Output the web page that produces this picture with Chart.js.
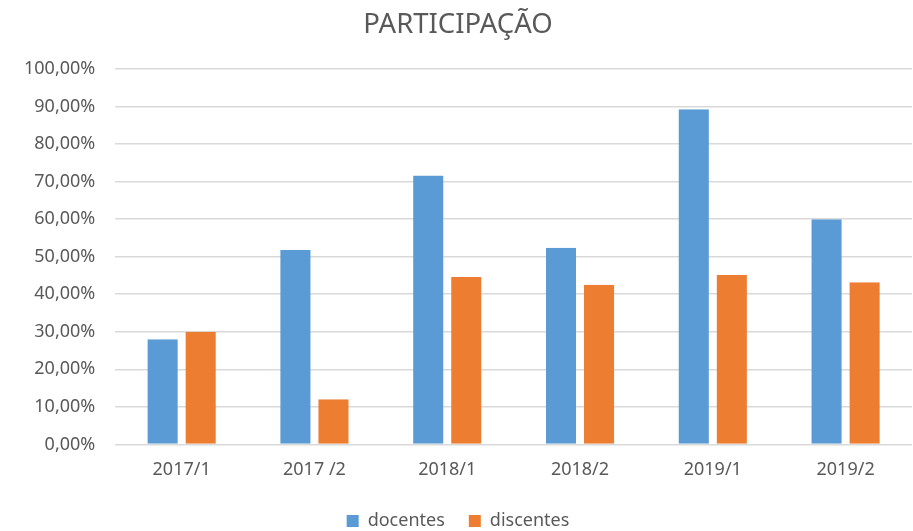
<!DOCTYPE html>
<html>
<head>
<meta charset="utf-8">
<script src="https://cdn.jsdelivr.net/npm/chart.js@4.4.0/dist/chart.umd.min.js"></script>
<style>
  html, body { margin: 0; padding: 0; background: #fff; }
  #wrap { width: 913px; height: 531px; }
</style>
</head>
<body>
<div id="wrap"><canvas id="chart"></canvas></div>
<script>
// semestres
const categories = ['2017/1', '2017 /2', '2018/1', '2018/2', '2019/1', '2019/2'];
// participação em %
const docentes = [28.0, 51.8, 71.6, 52.4, 89.3, 60.0];
const discentes = [30.0, 12.0, 44.6, 42.5, 45.1, 43.2];

const labelColor = '#595959';
const fontFamily = "'Noto Sans', 'Open Sans', sans-serif";

function fmt(v) {
    return v.toFixed(2).replace('.', ',') + '%';
}

// borda transparente nas laterais = espaço entre as barras
const gapBorder = { left: 4, right: 4, top: 0, bottom: 0 };

new Chart(document.getElementById('chart'), {
    type: 'bar',
    data: {
        labels: categories,
        datasets: [
            {
                label: 'docentes',
                data: docentes,
                backgroundColor: '#5B9BD5',
                borderColor: 'rgba(0,0,0,0)',
                borderWidth: gapBorder,
                borderSkipped: false
            },
            {
                label: 'discentes',
                data: discentes,
                backgroundColor: '#ED7D31',
                borderColor: 'rgba(0,0,0,0)',
                borderWidth: gapBorder,
                borderSkipped: false
            }
        ]
    },
    options: {
        responsive: true,
        maintainAspectRatio: false,
        animation: false,
        layout: { padding: { left: 4, right: 1, top: 0, bottom: -9 } },
        datasets: {
            bar: { categoryPercentage: 0.573, barPercentage: 1.0 }
        },
        scales: {
            x: {
                grid: { display: false, drawTicks: false },
                border: { display: false },
                ticks: { color: labelColor, font: { family: fontFamily, size: 18 }, padding: 15 },
                afterFit: axis => { axis.height -= 8; }
            },
            y: {
                min: 0,
                max: 100,
                grid: { color: '#D9D9D9', lineWidth: 1.5, drawTicks: false },
                border: { display: false },
                ticks: {
                    stepSize: 10,
                    color: labelColor,
                    font: { family: fontFamily, size: 18 },
                    padding: 20,
                    callback: v => fmt(v)
                }
            }
        },
        plugins: {
            title: {
                display: true,
                text: 'PARTICIPAÇÃO',
                color: labelColor,
                font: { family: fontFamily, size: 27.5, weight: 'normal' },
                padding: { top: 9, bottom: 27 }
            },
            legend: {
                position: 'bottom',
                labels: {
                    color: labelColor,
                    font: { family: fontFamily, size: 18 },
                    boxWidth: 12,
                    boxHeight: 12,
                    padding: 24
                }
            },
            tooltip: { enabled: false }
        }
    }
});
</script>
</body>
</html>
